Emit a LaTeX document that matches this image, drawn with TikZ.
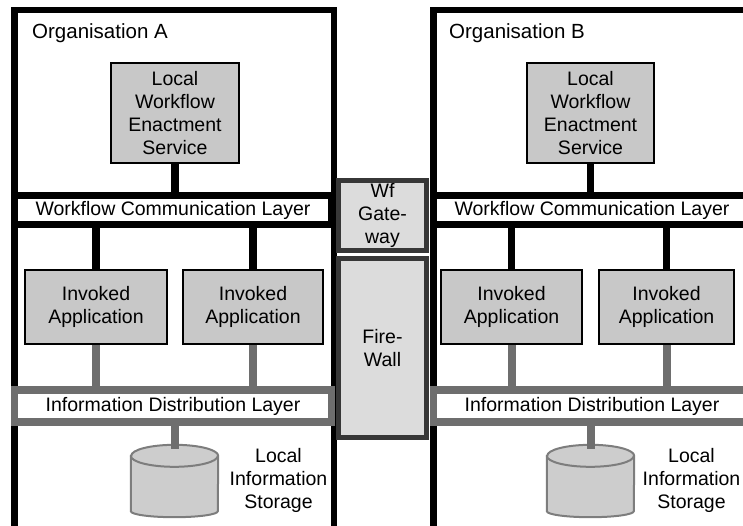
\documentclass[tikz,border=0pt]{standalone}
\usepackage{fontspec}
\setmainfont{Liberation Sans}

\definecolor{boxgray}{RGB}{200,200,200}
\definecolor{wallfill}{RGB}{220,220,220}
\definecolor{walldark}{RGB}{55,55,55}
\definecolor{infogray}{RGB}{110,110,110}
\definecolor{diskline}{RGB}{125,125,125}
\definecolor{diskfill}{RGB}{205,205,205}

% cylinder drawn round an empty node
\newcommand{\diskround}[1]{%
    \draw[diskline, line width=2pt, fill=diskfill]
        ([yshift=-11pt]#1.north west) -- ([yshift=6pt]#1.south west)
        arc[start angle=180, end angle=360, x radius=43.5pt, y radius=6pt]
        -- ([yshift=-11pt]#1.north east)
        arc[start angle=0, end angle=180, x radius=43.5pt, y radius=11pt] -- cycle;
    \draw[diskline, line width=2pt]
        ([yshift=-11pt]#1.north west)
        arc[start angle=180, end angle=360, x radius=43.5pt, y radius=11pt];}

\begin{document}
\begin{tikzpicture}[x=1pt,y=-1pt,
    every node/.style={font=\fontsize{19.5}{23}\selectfont},
    orgframe/.style={line width=6.5pt},
    orglabel/.style={anchor=base west, inner sep=0pt, font=\fontsize{20.5}{23}\selectfont},
    procbox/.style={draw, line width=2pt, fill=boxgray, align=center, inner sep=0pt},
    wflayer/.style={draw, line width=7pt, fill=white, inner sep=0pt, minimum width=317pt, minimum height=29pt},
    infolayer/.style={draw=infogray, line width=7.5pt, fill=white, inner sep=0pt, minimum width=317pt, minimum height=32pt},
    wallbox/.style={draw=walldark, line width=5pt, fill=wallfill, align=center, inner sep=0pt, minimum width=88pt},
    disk/.style={inner sep=0pt, minimum width=87pt, minimum height=72pt},
    disklabel/.style={align=center, inner sep=0pt},
    wfwire/.style={line width=7.5pt},
    infowire/.style={draw=infogray, line width=8pt}]
    \useasboundingbox (0,0) rectangle (743,525);

    % organisation frames
    \draw[orgframe] (14.5,540) -- (14.5,10) -- (334,10) -- (334,540);
    \draw[orgframe] (433.5,540) -- (433.5,10) -- (760,10);

    \node[orglabel] (orgA) at (32,38) {Organisation A};
    \node[orglabel] (orgB) at (449,38) {Organisation B};

    % organisation A
    \node[procbox, minimum width=128pt, minimum height=100pt] (lwesA) at (175,113) {Local\\Workflow\\Enactment\\Service};
    \node[wflayer] (wclA) at (173,210) {Workflow Communication Layer};
    \node[procbox, minimum width=142pt, minimum height=74pt] (appA1) at (96,307) {Invoked\\Application};
    \node[procbox, minimum width=140pt, minimum height=74pt] (appA2) at (253,307) {Invoked\\Application};
    \node[infolayer] (idlA) at (173,406) {Information Distribution Layer};
    \node[disk] (diskA) at (174.5,481) {};
    \diskround{diskA}
    \node[disklabel] (storeA) at (278.5,480) {Local\\Information\\Storage};

    % organisation B
    \node[procbox, minimum width=127pt, minimum height=100pt] (lwesB) at (590.5,113) {Local\\Workflow\\Enactment\\Service};
    \node[wflayer] (wclB) at (592,210) {Workflow Communication Layer};
    \node[procbox, minimum width=141pt, minimum height=74pt] (appB1) at (511.5,307) {Invoked\\Application};
    \node[procbox, minimum width=135pt, minimum height=74pt] (appB2) at (666.5,307) {Invoked\\Application};
    \node[infolayer] (idlB) at (592,406) {Information Distribution Layer};
    \node[disk] (diskB) at (590.5,481) {};
    \diskround{diskB}
    \node[disklabel] (storeB) at (691.5,480) {Local\\Information\\Storage};

    % between the organisations
    \node[wallbox, minimum height=70pt] (gateway) at (382.5,215.5) {Wf\\Gate-\\way};
    \node[wallbox, minimum height=179pt] (firewall) at (382.5,348) {Fire-\\Wall};

    \draw[wfwire]
        (lwesA.south) -- (lwesA.south |- wclA.north)
        (appA1.north) -- (appA1.north |- wclA.south)
        (appA2.north) -- (appA2.north |- wclA.south)
        (lwesB.south) -- (lwesB.south |- wclB.north)
        (appB1.north) -- (appB1.north |- wclB.south)
        (appB2.north) -- (appB2.north |- wclB.south)
        ;
    \draw[infowire]
        (appA1.south) -- (appA1.south |- idlA.north)
        (appA2.south) -- (appA2.south |- idlA.north)
        (diskA.north |- idlA.south) -- ([yshift=-4pt]diskA.north)
        (appB1.south) -- (appB1.south |- idlB.north)
        (appB2.south) -- (appB2.south |- idlB.north)
        (diskB.north |- idlB.south) -- ([yshift=-4pt]diskB.north)
        ;
\end{tikzpicture}
\end{document}
